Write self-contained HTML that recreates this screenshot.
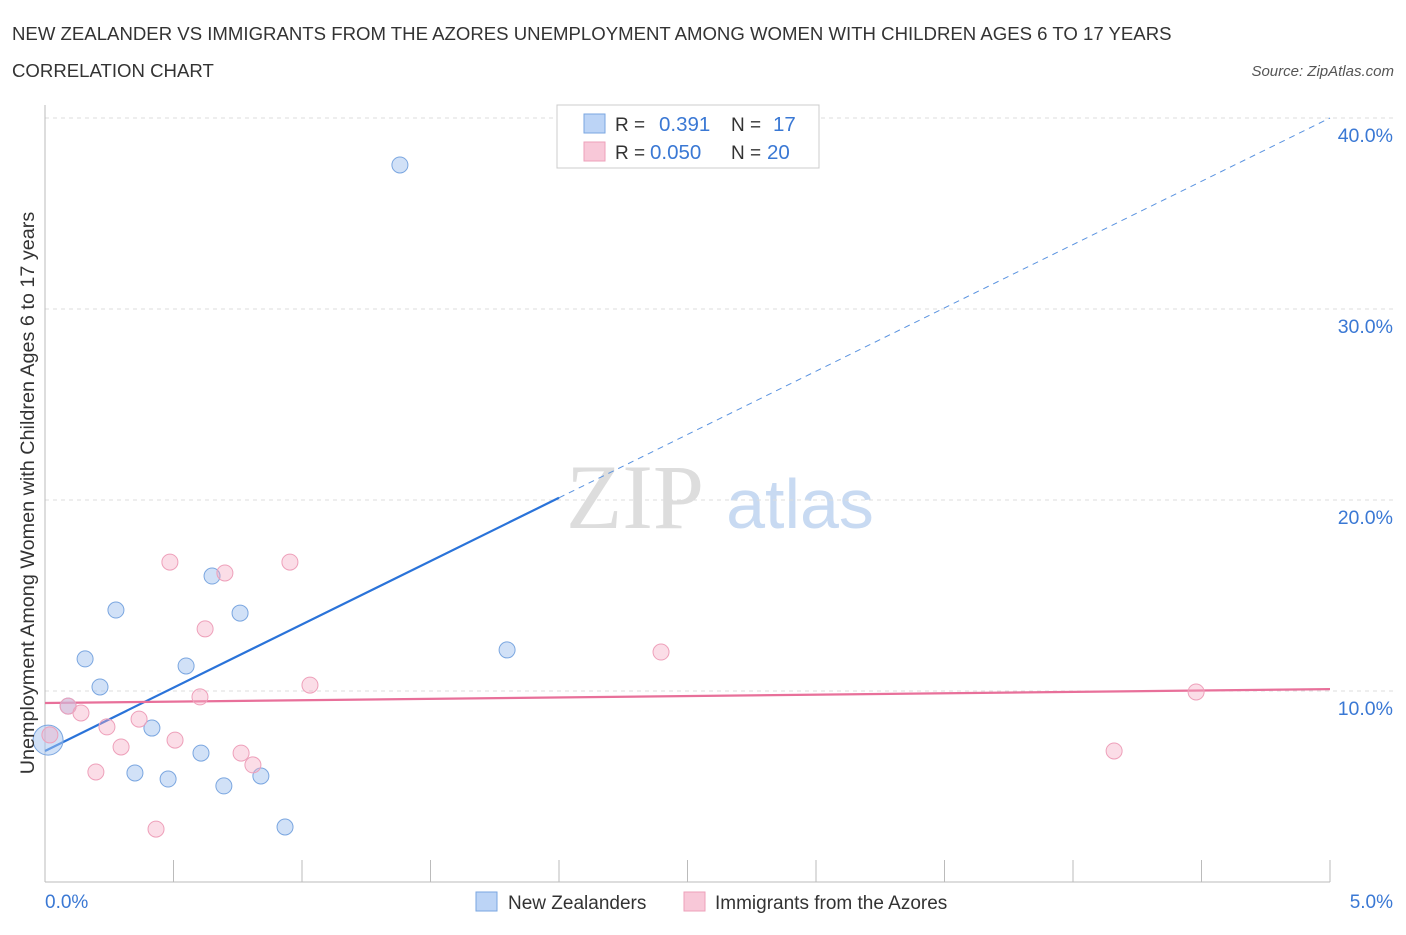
<!DOCTYPE html>
<html><head><meta charset="utf-8"><style>
body{margin:0;background:#fff;font-family:"Liberation Sans",sans-serif;}
svg text{font-family:"Liberation Sans",sans-serif;}
</style></head><body>
<svg id="chart" width="1406" height="930" xmlns="http://www.w3.org/2000/svg">
<text x="12" y="40" font-size="18.6" fill="#333">NEW ZEALANDER VS IMMIGRANTS FROM THE AZORES UNEMPLOYMENT AMONG WOMEN WITH CHILDREN AGES 6 TO 17 YEARS</text>
<text x="12" y="77" font-size="18.6" fill="#333">CORRELATION CHART</text>
<text x="1394" y="76" font-size="15" fill="#555" font-style="italic" text-anchor="end">Source: ZipAtlas.com</text>
<text x="635" y="528" font-size="92" fill="#ddd" text-anchor="middle" style="font-family:'Liberation Serif',serif">ZIP</text>
<text x="800" y="528" font-size="70" fill="#c8daf2" text-anchor="middle">atlas</text>
<g id="grid"></g><g id="axes"></g><g id="trends"></g><g id="pts"></g>
<text transform="translate(34,493) rotate(-90)" font-size="19.8" fill="#333" text-anchor="middle">Unemployment Among Women with Children Ages 6 to 17 years</text>
<text x="45" y="908" font-size="19" fill="#3a78d4">0.0%</text>
<text x="1393" y="908" font-size="19" fill="#3a78d4" text-anchor="end">5.0%</text>
<g>
<rect x="557" y="105" width="262" height="63" fill="#fff" stroke="#ccc"/>
<rect x="584" y="114" width="21" height="19" fill="#bcd4f6" stroke="#7aa6e0"/>
<rect x="584" y="142" width="21" height="19" fill="#f8c8d8" stroke="#eea0ba"/>
<text x="615" y="131" font-size="19" fill="#333">R =</text><text x="659" y="131" font-size="20.5" fill="#3a78d4">0.391</text>
<text x="731" y="131" font-size="19" fill="#333">N =</text><text x="773" y="131" font-size="20.5" fill="#3a78d4">17</text>
<text x="615" y="159" font-size="19" fill="#333">R =</text><text x="650" y="159" font-size="20.5" fill="#3a78d4">0.050</text>
<text x="731" y="159" font-size="19" fill="#333">N =</text><text x="767" y="159" font-size="20.5" fill="#3a78d4">20</text>
</g>
<g>
<rect x="476" y="892" width="21" height="19" fill="#bcd4f6" stroke="#7aa6e0"/>
<text x="508" y="909" font-size="19" fill="#333">New Zealanders</text>
<rect x="684" y="892" width="21" height="19" fill="#f8c8d8" stroke="#eea0ba"/>
<text x="715" y="909" font-size="19" fill="#333">Immigrants from the Azores</text>
</g>
</svg>
<script>
const yTicks=[10,20,30,40];
const yTickLabels=["10.0%","20.0%","30.0%","40.0%"];
const xTicks=[0,0.5,1,1.5,2,2.5,3,3.5,4,4.5,5];
const blueX=[0.012,0.09,0.156,0.214,0.276,0.35,0.416,0.479,0.549,0.607,0.65,0.696,0.759,0.84,0.934,1.381,1.798];
const blueY=[7.43,9.21,11.68,10.21,14.24,5.71,8.06,5.39,11.31,6.75,16.02,5.03,14.08,5.55,2.88,37.54,12.15];
const pinkX=[0.019,0.09,0.14,0.198,0.241,0.296,0.366,0.432,0.486,0.506,0.603,0.623,0.7,0.763,0.809,0.953,1.031,2.397,4.16,4.479];
const pinkY=[7.7,9.21,8.85,5.76,8.12,7.07,8.53,2.77,16.75,7.43,9.69,13.25,16.18,6.75,6.13,16.75,10.31,12.04,6.86,9.95];
const blueTrend=[6.86,40.0];
const pinkTrend=[9.37,10.1];
const blueSolidEnd=2.0;
const X=v=>45+v/5*1285, Y=v=>882-v*19.1;
const NS="http://www.w3.org/2000/svg";
function mk(p,t,a){const e=document.createElementNS(NS,t);for(const k in a)e.setAttribute(k,a[k]);document.getElementById(p).appendChild(e);return e;}
yTicks.forEach((t,i)=>{
 const l=mk('grid','line',{x1:45,x2:1395,y1:Y(t),y2:Y(t),stroke:'#ddd','stroke-dasharray':'4,4'});
 
 
 const tx=mk('grid','text',{x:1393,y:Y(t)+24,'font-size':19.5,fill:'#3a78d4','text-anchor':'end'});
 tx.textContent=yTickLabels[i];
 
 
});
const ax=mk('axes','line',{x1:45,x2:1330,y1:882,y2:882,stroke:'#bbb'});


const ay=mk('axes','line',{x1:45,x2:45,y1:105,y2:882,stroke:'#bbb'});


xTicks.forEach(t=>{
 const l=mk('axes','line',{x1:X(t),x2:X(t),y1:860,y2:882,stroke:'#bbb'});
 
 
});
function lineAt(a,x){return a[0]+(a[1]-a[0])*x/5;}
let t1=mk('trends','line',{x1:X(0),y1:Y(blueTrend[0]),x2:X(blueSolidEnd),y2:Y(lineAt(blueTrend,blueSolidEnd)),stroke:'#2a73d9','stroke-width':2.2});


let t2=mk('trends','line',{x1:X(blueSolidEnd),y1:Y(lineAt(blueTrend,blueSolidEnd)),x2:X(5),y2:Y(blueTrend[1]),stroke:'#5a93e0','stroke-width':1,'stroke-dasharray':'6,5'});


let t3=mk('trends','line',{x1:X(0),y1:Y(pinkTrend[0]),x2:X(5),y2:Y(pinkTrend[1]),stroke:'#e8709a','stroke-width':2.2});


blueX.forEach((x,i)=>{
 const c=mk('pts','circle',{cx:X(x),cy:Y(blueY[i]),r:i==0?15:8,fill:'rgba(164,196,240,0.5)',stroke:'#7aa6e0','stroke-width':1});
 
 
});
pinkX.forEach((x,i)=>{
 const c=mk('pts','circle',{cx:X(x),cy:Y(pinkY[i]),r:8,fill:'rgba(245,170,195,0.4)',stroke:'#eea0ba','stroke-width':1});
 
 
});
</script>
</body></html>
